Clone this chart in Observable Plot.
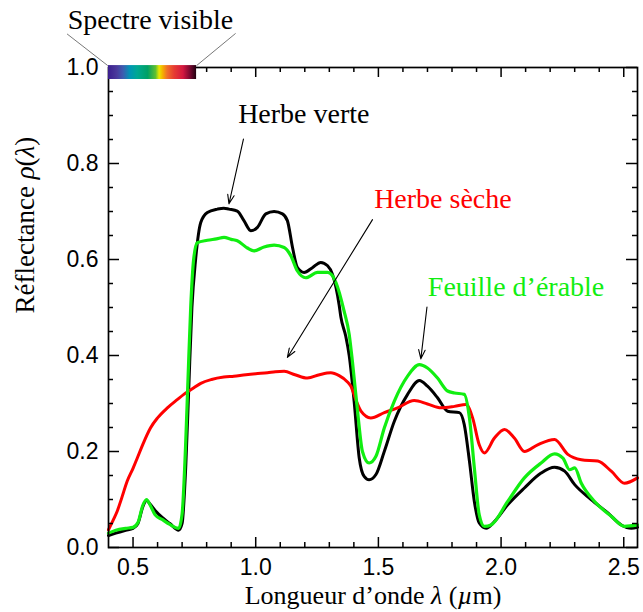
<!DOCTYPE html>
<html>
<head>
<meta charset="utf-8">
<script src="https://cdn.jsdelivr.net/npm/d3@7"></script>
<script src="https://cdn.jsdelivr.net/npm/@observablehq/plot@0.6"></script>
<style>
  html, body { margin: 0; padding: 0; background: #fff; }
</style>
</head>
<body>
<div id="chart"></div>
<script>
// ---- Data ----
const verteX = [0.400,0.43,0.47,0.50,0.52,0.54,0.555,0.57,0.59,0.62,0.65,0.686,0.70,0.715,0.727,0.74,0.755,0.776,0.803,0.844,0.87,0.891,0.925,0.952,0.98,1.007,1.041,1.075,1.109,1.129,1.15,1.17,1.197,1.231,1.265,1.293,1.313,1.34,1.347,1.367,1.381,1.401,1.422,1.442,1.462,1.49,1.524,1.565,1.619,1.667,1.70,1.741,1.782,1.83,1.85,1.871,1.891,1.911,1.939,1.973,2.027,2.095,2.163,2.218,2.259,2.30,2.367,2.435,2.49,2.531,2.556];
const verteY = [0.025,0.030,0.036,0.040,0.050,0.085,0.098,0.090,0.077,0.062,0.050,0.036,0.050,0.17,0.33,0.50,0.60,0.677,0.698,0.705,0.707,0.705,0.701,0.681,0.660,0.667,0.695,0.700,0.695,0.681,0.625,0.583,0.573,0.583,0.594,0.587,0.569,0.505,0.48,0.44,0.40,0.305,0.186,0.148,0.141,0.152,0.200,0.263,0.319,0.348,0.336,0.312,0.284,0.281,0.256,0.180,0.096,0.051,0.040,0.054,0.089,0.124,0.155,0.167,0.159,0.131,0.100,0.072,0.047,0.040,0.042];

const erableX = [0.400,0.43,0.47,0.50,0.52,0.54,0.555,0.57,0.59,0.62,0.65,0.686,0.70,0.714,0.724,0.735,0.747,0.762,0.803,0.84,0.871,0.90,0.925,0.966,0.993,1.034,1.075,1.116,1.143,1.17,1.204,1.252,1.293,1.327,1.36,1.381,1.394,1.415,1.435,1.462,1.49,1.524,1.565,1.619,1.667,1.70,1.741,1.782,1.81,1.85,1.871,1.891,1.911,1.932,1.959,2.027,2.095,2.163,2.218,2.252,2.279,2.30,2.327,2.381,2.449,2.503,2.556];
const erableY = [0.030,0.036,0.040,0.042,0.052,0.088,0.100,0.088,0.068,0.058,0.048,0.040,0.070,0.21,0.35,0.50,0.60,0.635,0.640,0.643,0.646,0.642,0.639,0.624,0.618,0.626,0.630,0.625,0.608,0.576,0.562,0.573,0.573,0.552,0.493,0.444,0.388,0.284,0.200,0.176,0.190,0.249,0.305,0.357,0.381,0.374,0.353,0.326,0.322,0.319,0.270,0.166,0.068,0.044,0.047,0.096,0.145,0.176,0.195,0.186,0.162,0.166,0.134,0.096,0.065,0.044,0.047];

const secheX = [0.400,0.42,0.435,0.455,0.476,0.50,0.517,0.54,0.571,0.60,0.64,0.68,0.707,0.74,0.776,0.82,0.87,0.911,0.96,1.00,1.048,1.08,1.116,1.16,1.211,1.26,1.306,1.34,1.374,1.388,1.41,1.429,1.469,1.524,1.578,1.646,1.70,1.755,1.81,1.857,1.884,1.911,1.932,1.973,2.014,2.054,2.095,2.149,2.218,2.272,2.327,2.394,2.449,2.503,2.556];
const secheY = [0.037,0.058,0.075,0.105,0.138,0.165,0.186,0.215,0.249,0.270,0.291,0.308,0.319,0.330,0.342,0.350,0.355,0.357,0.360,0.362,0.364,0.366,0.367,0.360,0.353,0.360,0.364,0.358,0.345,0.336,0.305,0.284,0.270,0.281,0.291,0.306,0.299,0.291,0.294,0.298,0.270,0.214,0.197,0.228,0.246,0.228,0.200,0.214,0.225,0.194,0.183,0.180,0.159,0.134,0.145];

// Tick values
const xMajor = [0.5, 1.0, 1.5, 2.0, 2.5];
const xMinor = [0.6,0.7,0.8,0.9,1.1,1.2,1.3,1.4,1.6,1.7,1.8,1.9,2.1,2.2,2.3,2.4];
const yMajor = [0, 0.2, 0.4, 0.6, 0.8, 1.0];
const yMinor = [0.05,0.1,0.15,0.25,0.3,0.35,0.45,0.5,0.55,0.65,0.7,0.75,0.85,0.9,0.95];

// Annotations (data coordinates)
const noteText = ["Herbe verte", "Herbe sèche", "Feuille d’érable"];
const noteX = [1.196, 1.763, 2.061];
const noteY = [0.885, 0.708, 0.525];
const noteColor = ["#000000", "#ff0000", "#11ee11"];
const arrowX1 = [0.950, 1.476, 1.698];
const arrowY1 = [0.851, 0.683, 0.501];
const arrowX2 = [0.891, 1.129, 1.673];
const arrowY2 = [0.716, 0.396, 0.393];

// Visible spectrum band
const spectreText = ["Spectre visible"];
const spectreTextX = [0.571];
const spectreTextY = [1.081];
const bandX = [0.4, 0.759];
const bandY = [0.975, 1.004];
const connX1 = [0.231, 0.918];
const connY1 = [1.070, 1.071];
const connX2 = [0.397, 0.759];
const connY2 = [1.004, 1.004];
const spectreOffsets = [0, 0.10, 0.17, 0.25, 0.33, 0.45, 0.54, 0.58, 0.62, 0.67, 0.75, 0.85, 0.93, 1];
const spectreColors = ["#3b1e8e","#4a3a9c","#3c5cb0","#0096b4","#00a893","#00a065","#60c030","#e8e800","#f5b000","#f07028","#e63c32","#d41840","#7a0830","#200010"];

const xLabel = "Longueur d’onde λ (µm)";
const yLabel = "Réflectance ρ(λ)";

const W = 643, H = 612;
const mL = 108, mR = 6, mT = 67, mB = 65;
const pW = W - mL - mR, pH = H - mT - mB;
const serif = "Liberation Serif, Times New Roman, serif";
const sans = "Liberation Sans, Arial, sans-serif";
const idx = a => a.map((_, i) => i);

const chart = Plot.plot({
  width: W, height: H,
  marginLeft: mL, marginRight: mR, marginTop: mT, marginBottom: mB,
  x: {domain: [0.4, 2.556]},
  y: {domain: [0, 1]},
  style: {background: "white", overflow: "visible"},
  marks: [
    // curves
    Plot.line(idx(verteX), {x: verteX, y: verteY, stroke: "#000", strokeWidth: 3, curve: "monotone-x"}),
    Plot.line(idx(secheX), {x: secheX, y: secheY, stroke: "#ff0000", strokeWidth: 3, curve: "monotone-x"}),
    Plot.line(idx(erableX), {x: erableX, y: erableY, stroke: "#11ee11", strokeWidth: 3.2, curve: "monotone-x"}),
    // ticks (inward)
    Plot.ruleX(xMajor, {insetTop: pH - 10, strokeWidth: 1.5}),
    Plot.ruleX(xMajor, {insetBottom: pH - 10, strokeWidth: 1.5}),
    Plot.ruleX(xMinor, {insetTop: pH - 5, strokeWidth: 1.5}),
    Plot.ruleX(xMinor, {insetBottom: pH - 5, strokeWidth: 1.5}),
    Plot.ruleY(yMajor, {insetRight: pW - 11, strokeWidth: 1.5}),
    Plot.ruleY(yMajor, {insetLeft: pW - 11, strokeWidth: 1.5}),
    Plot.ruleY(yMinor, {insetRight: pW - 5, strokeWidth: 1.5}),
    Plot.ruleY(yMinor, {insetLeft: pW - 5, strokeWidth: 1.5}),
    Plot.frame({stroke: "#000", strokeWidth: 1.7}),
    // axes labels (tick text only)
    Plot.axisX({ticks: xMajor, tickSize: 0, tickPadding: 11, tickFormat: d => d.toFixed(1), fontSize: 23, fontFamily: sans, label: null}),
    Plot.axisY({ticks: yMajor, tickSize: 0, tickPadding: 10, tickFormat: d => d.toFixed(1), fontSize: 23, fontFamily: sans, label: null}),
    // spectrum band and connectors
    Plot.link(idx(connX1), {x1: connX1, y1: connY1, x2: connX2, y2: connY2, stroke: "#555", strokeWidth: 0.8}),
    Plot.rect([0], {x1: bandX[0], x2: bandX[1], y1: bandY[0], y2: bandY[1], fill: "url(#spectre)"}),
    Plot.text(spectreText, {x: spectreTextX, y: spectreTextY, text: d => d, lineAnchor: "bottom", fontSize: 28, fontFamily: serif, fill: "#000"}),
    // annotations
    Plot.arrow(idx(arrowX1), {x1: arrowX1, y1: arrowY1, x2: arrowX2, y2: arrowY2, stroke: "#000", strokeWidth: 1.1, headLength: 13, headAngle: 40}),
    Plot.text(noteText, {x: noteX, y: noteY, text: d => d, fill: noteColor, lineAnchor: "bottom", fontSize: 28, fontFamily: serif}),
    // axis titles
    Plot.text([xLabel], {frameAnchor: "bottom", dy: 56, text: d => d, lineAnchor: "bottom", fontSize: 26, fontFamily: serif, fill: "#000"}),
    Plot.text([yLabel], {frameAnchor: "left", dx: -75, dy: 6, rotate: -90, text: d => d, lineAnchor: "bottom", fontSize: 27, fontFamily: serif, fill: "#000"})
  ]
});

// gradient definition for the spectrum band
const sel = d3.select(chart);
const defs = sel.insert("defs", ":first-child");
const grad = defs.append("linearGradient").attr("id", "spectre")
  .attr("x1", "0%").attr("x2", "100%").attr("y1", "0%").attr("y2", "0%");
spectreColors.forEach((c, i) => grad.append("stop").attr("offset", spectreOffsets[i]).attr("stop-color", c));

// italic Greek letters in axis titles
function italicize(node, parts) {
  const t = d3.select(node);
  t.text(null);
  parts.forEach(([s, it]) => {
    const ts = t.append("tspan").text(s);
    if (it) ts.attr("font-style", "italic");
  });
}
sel.selectAll("text").each(function () {
  if (this.textContent === xLabel) {
    italicize(this, [["Longueur d’onde ", false], ["λ", true], [" (", false], ["µ", true], ["m)", false]]);
  } else if (this.textContent === yLabel) {
    italicize(this, [["Réflectance ", false], ["ρ", true], ["(", false], ["λ", true], [")", false]]);
  }
});

document.getElementById("chart").appendChild(chart);
</script>
</body>
</html>
